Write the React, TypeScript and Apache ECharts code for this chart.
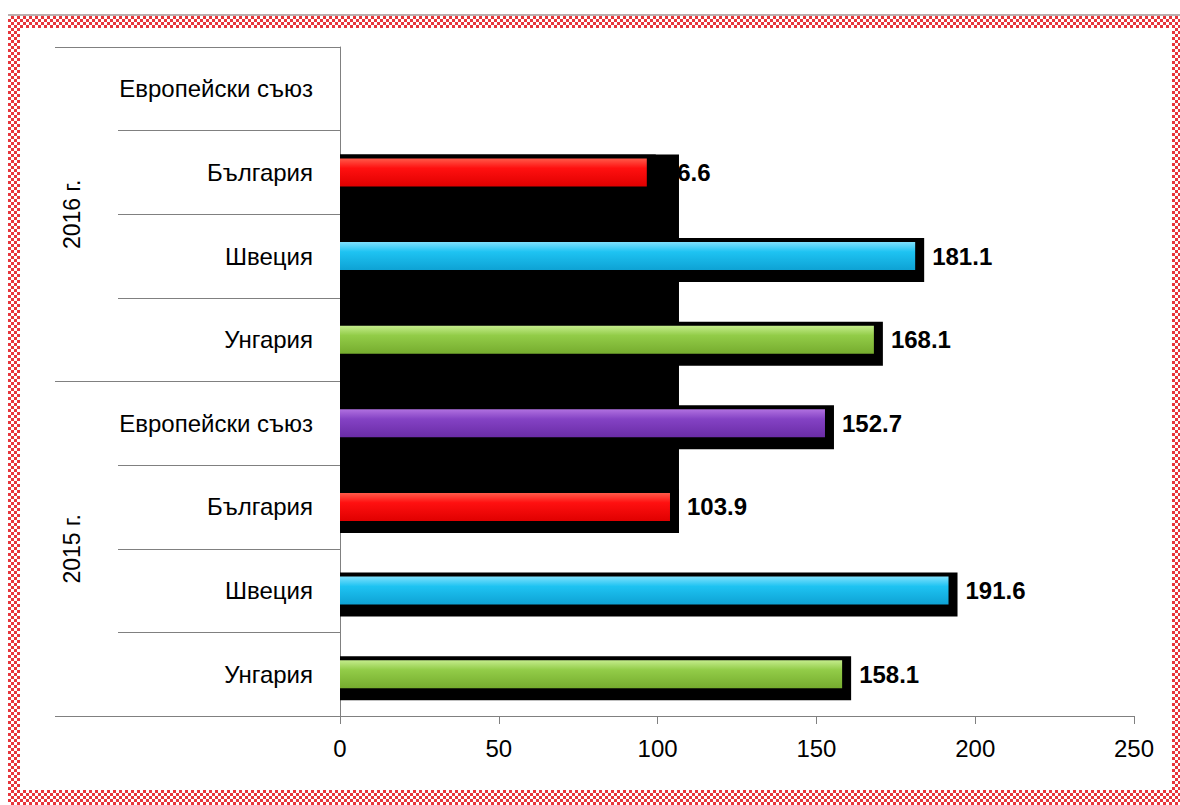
import React, { useEffect, useRef } from "react";
import * as echarts from "echarts";

const yearGroups = ["2015 г.", "2016 г."];
const countries = ["Унгария", "Швеция", "България", "Европейски съюз"];
const values2015 = [158.1, 191.6, 103.9, 152.7];
const values2016: (number | null)[] = [168.1, 181.1, 96.6, null];
const xTicks = [0, 50, 100, 150, 200, 250];

const palette: Record<string, string[]> = {
  "Унгария": ["#c4ec8c", "#92cc48", "#76ac2e"],
  "Швеция": ["#7fe0fc", "#1ec3f2", "#0ea2d4"],
  "България": ["#ff5a4a", "#ff1010", "#e00000"],
  "Европейски съюз": ["#b070e0", "#8442c4", "#6a2ca6"],
};

// categories bottom-to-top
const catKeys: string[] = [];
const catValues: (number | null)[] = [];
const catCountry: string[] = [];
[values2015, values2016].forEach((vals, gi) => {
  countries.forEach((c, ci) => {
    catKeys.push(yearGroups[gi] + "|" + c);
    catValues.push(vals[ci]);
    catCountry.push(c);
  });
});

// the black block that spans from Bulgaria 2016 down to Bulgaria 2015 in the original
const blockTopIdx = catKeys.indexOf("2016 г.|България");
const blockBottomIdx = catKeys.indexOf("2015 г.|България");
const blockValue = values2015[2];

export default function App() {
  const ref = useRef<HTMLDivElement>(null);
  useEffect(() => {
    if (!ref.current) return;
    const chart = echarts.init(ref.current, undefined, { renderer: "svg" });
    const font = "'Liberation Sans', Arial, sans-serif";
    const narrow = "'Liberation Sans Narrow', 'Arial Narrow', 'Liberation Sans', Arial, sans-serif";

    const shadowData: any[] = [];
    catValues.forEach((v, i) => {
      if (v != null) shadowData.push([v, i, 0, i]);
    });
    shadowData.push([blockValue, blockBottomIdx, 1, blockTopIdx]);

    chart.setOption({
      animation: false,
      backgroundColor: "transparent",
      grid: { left: 340, right: 46, top: 47, bottom: 89, containLabel: false },
      xAxis: {
        type: "value",
        min: 0,
        max: 250,
        interval: 50,
        splitLine: { show: false },
        axisLine: { show: true, lineStyle: { color: "#808080", width: 1 } },
        axisTick: { show: true, length: 8, lineStyle: { color: "#808080" } },
        axisLabel: {
          color: "#000",
          fontSize: 24,
          fontFamily: narrow,
          margin: 20,
          formatter: (v: number) => (xTicks.includes(v) ? String(v) : ""),
        },
      },
      yAxis: [
        {
          type: "category",
          data: catKeys,
          position: "left",
          axisLine: { show: true, lineStyle: { color: "#808080" } },
          axisTick: { show: true, length: 222, lineStyle: { color: "#808080" } },
          axisLabel: {
            color: "#000",
            fontSize: 24,
            fontFamily: font,
            margin: 27,
            formatter: (v: string) => v.split("|")[1],
          },
        },
        {
          type: "category",
          data: yearGroups,
          position: "left",
          axisLine: { show: false },
          axisTick: { show: true, length: 285, lineStyle: { color: "#808080" } },
          axisLabel: {
            color: "#000",
            fontSize: 23,
            fontFamily: font,
            margin: 268,
            rotate: 90,
            align: "center",
            verticalAlign: "middle",
          },
        },
      ],
      series: [
        {
          type: "bar",
          name: "labels",
          z: 1,
          barWidth: 28,
          barGap: "-100%",
          data: catValues.map((v) => (v == null ? "-" : v)),
          itemStyle: { color: "rgba(0,0,0,0)" },
          label: {
            show: true,
            position: "right",
            distance: 17,
            color: "#000",
            fontSize: 24,
            fontWeight: "bold",
            fontFamily: narrow,
            formatter: (p: any) => Number(p.value).toFixed(1),
          },
        },
        {
          type: "custom",
          name: "shadow",
          z: 3,
          data: shadowData,
          encode: { x: 0, y: 1 },
          renderItem: (params: any, api: any) => {
            const v = api.value(0);
            const idx = api.value(1);
            const kind = api.value(2);
            const topIdx = api.value(3);
            const p0 = api.coord([0, idx]);
            const p1 = api.coord([v, idx]);
            const pTop = api.coord([0, topIdx]);
            const x = p0[0];
            const w = p1[0] - p0[0] + 9;
            const y = (kind === 1 ? pTop[1] : p0[1]) - 18;
            const h = p0[1] + 26 - y;
            return {
              type: "rect",
              shape: { x, y, width: w, height: h },
              style: { fill: "#000" },
            };
          },
        },
        {
          type: "bar",
          name: "bars",
          z: 4,
          barWidth: 28,
          barGap: "-100%",
          data: catValues.map((v, i) => {
            if (v == null) return "-";
            const c = palette[catCountry[i]];
            return {
              value: v,
              itemStyle: {
                color: new echarts.graphic.LinearGradient(0, 0, 0, 1, [
                  { offset: 0, color: c[0] },
                  { offset: 0.35, color: c[1] },
                  { offset: 1, color: c[2] },
                ]),
              },
            };
          }),
        },
      ],
    });
    return () => chart.dispose();
  }, []);

  const checker =
    "repeating-conic-gradient(#e3141b 0% 25%, transparent 0% 50%) 0 0 / 6px 6px";

  return (
    <div style={{ position: "fixed", left: 0, top: 0, width: 1180, height: 805, background: "#fff", overflow: "hidden" }}>
      <div
        style={{
          position: "absolute",
          left: 8,
          top: 14,
          width: 1180,
          height: 789,
          background: checker,
          borderTop: "2px solid #b0a0a0",
          opacity: 0.85,
        }}
      />
      <div
        style={{
          position: "absolute",
          left: 20,
          top: 28,
          width: 1152,
          height: 762,
          background: "#fff",
        }}
      />
      <div ref={ref} style={{ position: "absolute", left: 0, top: 0, width: 1180, height: 805 }} />
    </div>
  );
}
